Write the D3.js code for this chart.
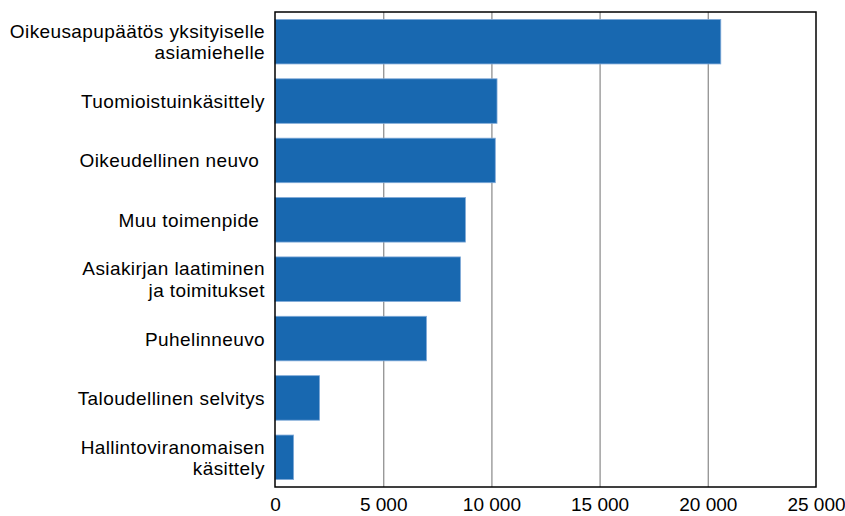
<html>
<head>
<meta charset="UTF-8">
<script src="https://d3js.org/d3.v7.min.js"></script>
<style>
    body { margin: 0; background: #fff; }
    text { font-family: Arial, "Liberation Sans", sans-serif; fill: #000; }
</style>
</head>
<body>
<svg width="845" height="516" id="canvas"></svg>
<script>
    // categories (line breaks where the original label wraps)
    var categories = [
        "Oikeusapupäätös yksityiselle\nasiamiehelle",
        "Tuomioistuinkäsittely",
        "Oikeudellinen neuvo ",
        "Muu toimenpide ",
        "Asiakirjan laatiminen\nja toimitukset",
        "Puhelinneuvo",
        "Taloudellinen selvitys",
        "Hallintoviranomaisen\nkäsittely"
    ];
    var values = [20600, 10260, 10180, 8800, 8570, 7000, 2060, 860];
    var xTicks = [0, 5000, 10000, 15000, 20000, 25000];

    var svg = d3.select("#canvas");
    var plotLeft = 275, plotRight = 816, plotTop = 12, plotBottom = 487;

    var x = d3.scaleLinear().domain([0, 25000]).range([plotLeft, plotRight]);
    var y = d3.scaleBand().domain(categories).range([plotTop, plotBottom])
        .paddingInner(0.25).paddingOuter(0.125);

    var fi = d3.formatLocale({ decimal: ",", thousands: " ", grouping: [3], currency: ["", ""] });
    var fmt = fi.format(",");

    // grid lines
    svg.append("g")
        .attr("transform", "translate(0," + plotBottom + ")")
        .call(d3.axisBottom(x).tickValues(xTicks.slice(1, -1)).tickSize(-(plotBottom - plotTop)).tickFormat(""))
        .call(g => g.select(".domain").remove())
        .selectAll("line").attr("stroke", "#999").attr("stroke-width", 1.4);

    // bars
    svg.selectAll(".bar")
        .data(values)
        .enter()
        .append("rect")
        .attr("class", "bar")
        .attr("x", x(0))
        .attr("y", (d, i) => y(categories[i]))
        .attr("width", d => x(d) - x(0))
        .attr("height", y.bandwidth())
        .attr("fill", "#1868b0")
        .attr("stroke", "#7fa9d8")
        .attr("stroke-width", 0.8);

    // frame
    svg.append("rect")
        .attr("x", plotLeft).attr("y", plotTop)
        .attr("width", plotRight - plotLeft).attr("height", plotBottom - plotTop)
        .attr("fill", "none").attr("stroke", "#000").attr("stroke-width", 1.5);

    // x axis labels
    svg.append("g")
        .attr("transform", "translate(0," + plotBottom + ")")
        .call(d3.axisBottom(x).tickValues(xTicks).tickSize(0).tickPadding(11).tickFormat(fmt))
        .call(g => g.select(".domain").remove())
        .selectAll("text")
        .style("font-family", "Arial, 'Liberation Sans', sans-serif")
        .style("font-size", "19px")
        .attr("fill", "#000");

    // category labels
    var lab = svg.append("g");
    categories.forEach(function (c) {
        var lines = c.split("\n");
        var cy = y(c) + y.bandwidth() / 2;
        var lh = 21.5;
        var t = lab.append("text")
            .attr("text-anchor", "end")
            .style("font-size", "19px")
            .style("letter-spacing", "0.4px")
            .style("white-space", "pre");
        lines.forEach(function (l, j) {
            t.append("tspan")
                .attr("x", 265)
                .attr("y", cy + 7 + (j - (lines.length - 1) / 2) * lh)
                .text(l);
        });
    });
</script>
</body>
</html>
